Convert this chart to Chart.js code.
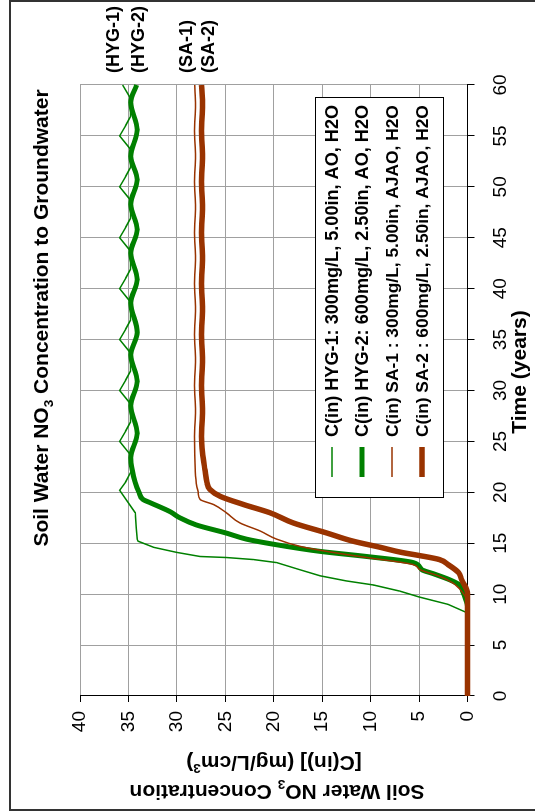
<!DOCTYPE html>
<html><head><meta charset="utf-8">
<script src="https://cdn.jsdelivr.net/npm/chart.js@4.4.1/dist/chart.umd.min.js"></script>
<style>
html,body{margin:0;padding:0;background:#fff;overflow:hidden;width:535px;height:812px;}
#wrap{position:absolute;left:0;top:812px;width:812px;height:535px;transform-origin:0 0;transform:rotate(-90deg);background:#fff;}
</style></head><body>
<div id="wrap"><canvas id="c" width="812" height="535"></canvas></div>
<script>
// ---- data (time in years, concentration) ----
const timeTicks = [0,5,10,15,20,25,30,35,40,45,50,55,60];
const concTicks = [0,5,10,15,20,25,30,35,40];

const tH1 = [0, 8.0, 8.2, 9.0, 9.7, 10.3, 10.9, 11.3, 11.8, 12.4, 13.1, 13.4, 13.6, 13.7, 14.1, 14.6, 15.2, 15.4, 16.5, 18.0,
  20.2, 21.0, 22.1, 23.7, 25.0, 26.0, 26.9, 28.7, 30.0, 31.0, 31.9, 33.7, 35.0, 36.0, 36.9, 38.7, 40.0, 41.0, 41.9, 43.7,
  45.0, 46.0, 46.9, 48.7, 50.0, 51.0, 51.9, 53.7, 55.0, 56.0, 56.9, 58.7, 60.0];
const cH1 = [0, 0, 0.1, 2.0, 4.9, 7.0, 9.7, 12.5, 15.2, 17.3, 19.7, 22.1, 24.9, 27.6, 30.0, 32.4, 34.0, 34.1, 34.2, 34.3,
  35.9, 35.3, 34.7, 34.8, 35.9, 35.3, 34.8, 34.8, 35.9, 35.3, 34.8, 34.8, 35.9, 35.3, 34.8, 34.8, 35.9, 35.3, 34.8, 34.8,
  35.9, 35.3, 34.8, 34.8, 35.9, 35.3, 34.8, 34.8, 35.9, 35.3, 34.8, 34.8, 35.6];

const tH2 = [0, 8.8, 9.5, 10.3, 10.9, 11.4, 12.0, 12.4, 13.1, 13.7, 14.2, 14.9, 15.4, 16.0, 16.8, 17.5, 18.1, 19.0, 19.3, 20.0,
  21.0, 22.2, 23.4, 25.8, 28.5, 30.9, 33.5, 35.7, 38.6, 40.9, 43.5, 45.8, 48.3, 50.7, 53.0, 55.6, 58.3, 60.0];
const cH2 = [0, 0, 0.2, 0.5, 0.8, 1.8, 3.5, 4.7, 5.6, 10.4, 15.2, 20.0, 22.8, 24.9, 28.0, 29.7, 30.7, 32.8, 33.5, 33.9,
  34.3, 34.6, 34.75, 34.1, 34.75, 34.1, 34.75, 34.1, 34.75, 34.1, 34.75, 34.1, 34.75, 34.1, 34.75, 34.1, 34.75, 34.15];

const tS1 = [0, 9.2, 9.8, 10.5, 11.1, 11.8, 12.4, 12.9, 13.6, 14.1, 14.7, 15.4, 16.2, 17.0, 18.0, 18.8, 19.3, 20.0, 20.6, 22.2,
  25.5, 28.0, 30.5, 33.0, 35.5, 38.0, 40.5, 43.0, 45.5, 48.0, 50.5, 53.0, 55.5, 58.0, 60.0];
const cS1 = [0, 0, 0.25, 0.8, 1.5, 3.0, 4.9, 5.6, 10.4, 13.9, 17.3, 19.7, 21.4, 23.5, 24.9, 26.2, 27.6, 27.8, 27.95, 28.1,
  28.18, 28.08, 28.18, 28.08, 28.18, 28.08, 28.18, 28.08, 28.18, 28.08, 28.18, 28.08, 28.18, 28.08, 28.15];

const tS2 = [0, 10.1, 11.4, 12.1, 12.9, 13.4, 13.8, 14.1, 14.6, 15.2, 16.0, 17.0, 18.0, 18.8, 19.6, 20.3, 21.0, 22.2, 23.9, 25.5,
  28.0, 30.5, 33.0, 35.5, 38.0, 40.5, 43.0, 45.5, 48.0, 50.5, 53.0, 55.5, 58.0, 60.0];
const cS2 = [0, 0, 0.6, 0.9, 2.0, 2.9, 5.0, 6.8, 9.0, 11.8, 14.5, 18.0, 20.4, 23.1, 25.5, 26.6, 26.9, 27.1, 27.35, 27.46,
  27.36, 27.46, 27.36, 27.46, 27.36, 27.46, 27.36, 27.46, 27.36, 27.46, 27.36, 27.46, 27.36, 27.45];

const seriesNames = [
  'C(in) HYG-1: 300mg/L, 5.00in, AO, H2O',
  'C(in) HYG-2: 600mg/L, 2.50in, AO, H2O',
  'C(in) SA-1 : 300mg/L, 5.00in, AJAO, H2O',
  'C(in) SA-2 : 600mg/L, 2.50in, AJAO, H2O'
];
const endLabels = ['(HYG-1)', '(HYG-2)', '(SA-1)', '(SA-2)'];

const GREEN = '#008000', BROWN = '#993300';
const FAM = "'Liberation Sans', Arial, sans-serif";
const pts = (t, c) => t.map((x, i) => ({x: x, y: c[i]}));

function richWidth(ctx, segs, size) {
  let w = 0;
  for (const s of segs) {
    ctx.font = 'bold ' + (s.sub || s.sup ? size * 0.65 : size) + 'px ' + FAM;
    w += ctx.measureText(s.text).width;
  }
  return w;
}
function drawRich(ctx, segs, x, y, size, align) {
  const w = richWidth(ctx, segs, size);
  let cx = align === 'center' ? x - w / 2 : x;
  ctx.textAlign = 'left';
  ctx.textBaseline = 'alphabetic';
  for (const s of segs) {
    const sz = s.sub || s.sup ? size * 0.65 : size;
    ctx.font = 'bold ' + sz + 'px ' + FAM;
    const dy = s.sub ? size * 0.22 : (s.sup ? -size * 0.38 : 0);
    ctx.fillText(s.text, cx, y + dy);
    cx += ctx.measureText(s.text).width;
  }
}

const decor = {
  id: 'decor',
  afterDraw(chart) {
    const ctx = chart.ctx;
    ctx.save();
    ctx.fillStyle = '#000';
    // outer border
    ctx.strokeStyle = '#333';
    ctx.lineWidth = 2;
    ctx.strokeRect(2, 10, 809, 600);
    // main title
    drawRich(ctx, [{text: 'Soil Water NO'}, {text: '3', sub: true}, {text: ' Concentration to Groundwater'}], 494, 48, 21, 'center');
    // y axis title (two lines, rotated)
    ctx.save();
    ctx.translate(27, 277);
    ctx.rotate(-Math.PI / 2);
    drawRich(ctx, [{text: 'Soil Water NO'}, {text: '3', sub: true}, {text: ' Concentration'}], 0, 0, 21, 'center');
    ctx.restore();
    ctx.save();
    ctx.translate(56, 274);
    ctx.rotate(-Math.PI / 2);
    drawRich(ctx, [{text: '[C(in)] (mg/L/cm'}, {text: '3', sup: true}, {text: ')'}], 0, 0, 21, 'center');
    ctx.restore();
    // x axis title
    drawRich(ctx, [{text: 'Time (years)'}], 440, 526, 21, 'center');
    // legend
    const lx = 314, ly = 315, lw = 400, lh = 128;
    ctx.fillStyle = '#fff';
    ctx.fillRect(lx, ly, lw, lh);
    ctx.strokeStyle = '#000';
    ctx.lineWidth = 1;
    ctx.strokeRect(lx + 0.5, ly + 0.5, lw, lh);
    const ds = chart.data.datasets;
    for (let i = 0; i < ds.length; i++) {
      const ry = 332 + i * 30;
      ctx.strokeStyle = ds[i].borderColor;
      ctx.lineWidth = ds[i].borderWidth;
      ctx.beginPath();
      ctx.moveTo(335, ry);
      ctx.lineTo(365, ry);
      ctx.stroke();
      ctx.fillStyle = '#000';
      ctx.font = 'bold 18px ' + FAM;
      const w18 = ctx.measureText(ds[i].label).width;
      const fs = Math.min(18.2, 18 * 332 / w18);
      ctx.font = 'bold ' + fs.toFixed(2) + 'px ' + FAM;
      ctx.textAlign = 'left';
      ctx.textBaseline = 'middle';
      ctx.fillText(ds[i].label, 375, ry + 1);
    }
    // end labels
    const ev = [114, 139, 187, 209];
    ctx.font = 'bold 18px ' + FAM;
    ctx.fillStyle = '#000';
    ctx.textAlign = 'left';
    ctx.textBaseline = 'middle';
    for (let i = 0; i < endLabels.length; i++) ctx.fillText(endLabels[i], 739, ev[i]);
    ctx.restore();
  }
};

new Chart(document.getElementById('c'), {
  type: 'scatter',
  data: {
    datasets: [
      {label: seriesNames[0], data: pts(tH1, cH1), borderColor: GREEN, borderWidth: 1.5, tension: 0, order: 4},
      {label: seriesNames[1], data: pts(tH2, cH2), borderColor: GREEN, borderWidth: 5, cubicInterpolationMode: 'monotone', order: 3},
      {label: seriesNames[2], data: pts(tS1, cS1), borderColor: BROWN, borderWidth: 1.5, cubicInterpolationMode: 'monotone', order: 2},
      {label: seriesNames[3], data: pts(tS2, cS2), borderColor: BROWN, borderWidth: 5.5, cubicInterpolationMode: 'monotone', order: 1}
    ].map(d => Object.assign({showLine: true, pointRadius: 0, fill: false, clip: false, backgroundColor: d.borderColor}, d))
  },
  options: {
    responsive: false,
    devicePixelRatio: 1,
    animation: false,
    layout: {padding: {left: 0, right: 85, top: 80, bottom: 0}},
    plugins: {legend: {display: false}, tooltip: {enabled: false}},
    scales: {
      x: {
        type: 'linear', min: 0, max: 60,
        afterBuildTicks: s => { s.ticks = timeTicks.map(v => ({value: v})); },
        ticks: {color: '#000', font: {size: 19, family: FAM}, padding: 15, maxRotation: 0, autoSkip: false},
        grid: {color: '#a0a0a0', tickColor: '#000', tickLength: 7},
        border: {color: '#000', width: 1},
        afterFit: s => { s.height = 67.5; }
      },
      y: {
        type: 'linear', min: 0, max: 40,
        afterBuildTicks: s => { s.ticks = concTicks.map(v => ({value: v})); },
        ticks: {color: '#000', font: {size: 19, family: FAM}, padding: 9, autoSkip: false},
        grid: {color: '#a0a0a0', tickColor: '#000', tickLength: 6},
        border: {color: '#000', width: 1},
        afterFit: s => { s.width = 116; }
      }
    }
  },
  plugins: [decor]
});
</script></body></html>
